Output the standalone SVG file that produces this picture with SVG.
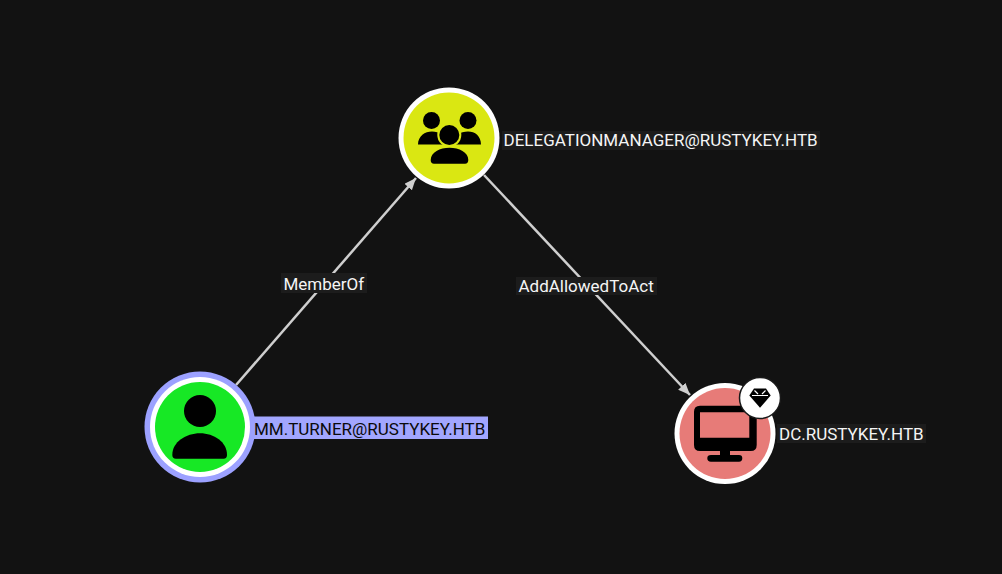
<svg xmlns="http://www.w3.org/2000/svg" width="1002" height="574" viewBox="0 0 1002 574">
<style>
.lbl{font-family:Roboto,"Liberation Sans",sans-serif;font-size:17px;fill:#f5f5f5}
.bg{fill:#1c1c1c}
.edge{stroke:#cfcfcf;stroke-width:2.500;fill:none;marker-end:url(#arrow)}
.ring{fill:#fff}
</style>
<defs>
<marker id="arrow" markerUnits="userSpaceOnUse" markerWidth="14" markerHeight="12" refX="12" refY="5" orient="auto">
<path d="M0 0L12 5L0 10z" fill="#cfcfcf"/>
</marker>
</defs>
<rect width="1002" height="574" fill="#121212"/>
<g id="connectors">
<path class="edge" d="M236 385L416 178"/>
<path class="edge" d="M484 175L690 395"/>
<g id="edge-memberof"><rect class="bg" x="281" y="273" width="86" height="20"/><text class="lbl" x="283.500" y="289.500">MemberOf</text></g>
<g id="edge-addallowedtoact"><rect class="bg" x="516" y="277" width="141" height="18"/><text class="lbl" x="518.500" y="292">AddAllowedToAct</text></g>
</g>
<g id="node-group">
<circle class="ring" cx="449" cy="138" r="50.500"/>
<circle cx="449" cy="138" r="45.500" fill="#dae712"/>
<circle cx="431.500" cy="120.500" r="8.500"/>
<circle cx="468" cy="120.500" r="8.500"/>
<path d="M418 144.500C418 136 425 131.500 432 131.500C439 131.500 446 136 446 144.500zM452 144.500C452 136 461 131.500 468 131.500C475 131.500 481 136 481 144.500z"/>
<circle cx="449.300" cy="135" r="12" fill="#dae712"/>
<circle cx="449.300" cy="135" r="10"/>
<path d="M430.700 160C430.700 152 440 147.700 449.500 147.700C459 147.700 468.300 152 468.300 160Q468.300 163.700 465 163.700H434Q430.700 163.700 430.700 160z"/>
<rect class="bg" x="502" y="131" width="318" height="19"/>
<text class="lbl" x="503.500" y="146">DELEGATIONMANAGER@RUSTYKEY.HTB</text>
</g>
<g id="node-user">
<rect x="250" y="416.500" width="238" height="22.500" fill="#a2a6ff"/>
<circle cx="200" cy="427" r="55.500" fill="#9ca1ff"/>
<circle class="ring" cx="200" cy="427" r="50"/>
<circle cx="200" cy="427" r="45" fill="#17e825"/>
<circle cx="200" cy="411" r="16"/>
<path d="M172.300 455C172.300 442 186 433.300 200 433.300C214 433.300 227 442 227 455Q227 458.700 223.500 458.700H176Q172.300 458.700 172.300 455z"/>
<text x="254" y="435" style="font-family:Roboto,'Liberation Sans',sans-serif;font-size:17px;fill:#0a0a0a">MM.TURNER@RUSTYKEY.HTB</text>
</g>
<g id="node-computer">
<circle class="ring" cx="725" cy="433.500" r="50.500"/>
<circle cx="725" cy="433.500" r="45.500" fill="#e77b78"/>
<path fill-rule="evenodd" d="M700 405.700H750.700Q756.700 405.700 756.700 411.700V445Q756.700 451 750.700 451H730V455H739Q742.300 455 742.300 458.300Q742.300 461.700 739 461.700H711Q707.300 461.700 707.300 458.300Q707.300 455 711 455H720V451H700Q694 451 694 445V411.700Q694 405.700 700 405.700zM700 412.300V437.700H749.300V412.300z"/>
<circle cx="760" cy="398" r="20.500" fill="#fff" stroke="#1a1a1a" stroke-width="1.500"/>
<path d="M754 388.500H766L770.700 395.500L760 407.700L749.300 395.500z"/>
<path d="M754.500 390.500L758 394M765.500 390.500L762 394M752 395.500H768" stroke="#fff" stroke-width="1.200" fill="none"/>
<rect class="bg" x="777" y="424" width="149" height="19"/>
<text class="lbl" x="779" y="439.500">DC.RUSTYKEY.HTB</text>
</g>
</svg>
